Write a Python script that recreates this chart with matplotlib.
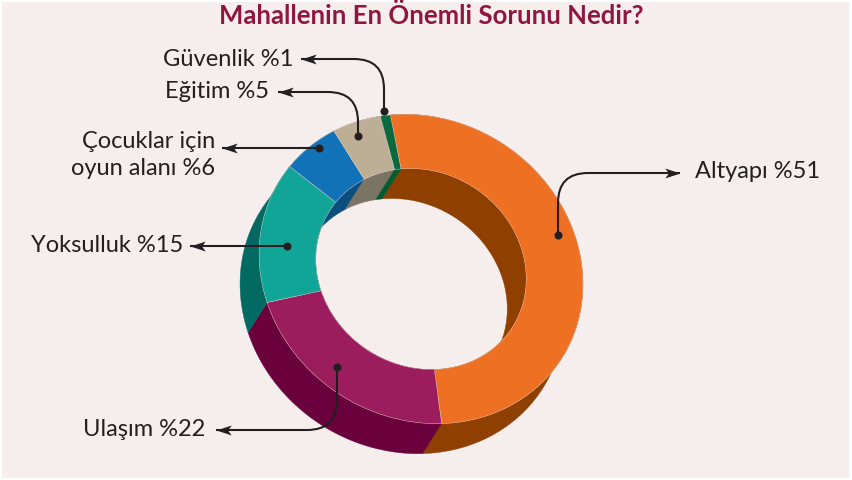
import numpy as np
import matplotlib
matplotlib.use("Agg")
import matplotlib.pyplot as plt
from matplotlib.patches import Wedge, Rectangle, Polygon, PathPatch
from matplotlib.path import Path
from matplotlib.transforms import Affine2D

plt.rcParams['font.family'] = ['Lato', 'DejaVu Sans']

title = "Mahallenin En Önemli Sorunu Nedir?"
categories = ["Altyapı", "Ulaşım", "Yoksulluk", "Çocuklar için\noyun alanı", "Eğitim", "Güvenlik"]
values = [51, 22, 15, 6, 5, 1]
top_colors = ["#EE7023", "#9B1D5E", "#10A597", "#1172B8", "#BDAF96", "#0B6A3D"]
wall_colors = ["#8F3F00", "#6A003C", "#036A63", "#0A4E80", "#7A7464", "#055A30"]

BG = "#F5EEED"
INK = "#231F20"
CX, CY = 421, 269
START = -134
HOLE = 0.65
DEPTH = (-19, 30)

fig = plt.figure(figsize=(8.52, 4.8), dpi=100, facecolor="white")
ax = fig.add_axes([0, 0, 1, 1])
ax.set_xlim(0, 852)
ax.set_ylim(480, 0)
ax.axis("off")
ax.add_patch(Rectangle((2, 2), 847, 476, fc=BG, ec="none", zorder=0))

# Tilted, slightly sheared projection of the unit circle onto the page
unit = Affine2D.from_values(135.7, 96.7, -88.4, 120.7, CX, CY)
shares = np.array(values, float) / sum(values) * 360
edges = START + np.concatenate([[0], np.cumsum(shares)])


def arc(radius, t1, t2):
    t = np.radians(np.linspace(t1, t2, 120))
    return unit.transform(np.column_stack([radius * np.cos(t), radius * np.sin(t)]))


def wall(radius, t1, t2, color, z):
    top = arc(radius, t1, t2)
    low = top + np.array(DEPTH)
    ax.add_patch(Polygon(np.vstack([top, low[::-1]]), closed=True, fc=color, ec=color, lw=0.3, zorder=z))


for i in range(len(values)):
    wall(1.0, edges[i], edges[i + 1], wall_colors[i], 1)
for i in range(len(values)):
    wall(HOLE, edges[i], edges[i + 1], wall_colors[i], 2)
for i in range(len(values)):
    ax.add_patch(Wedge((0, 0), 1.0, edges[i], edges[i + 1], width=1 - HOLE,
                       fc=top_colors[i], ec="#F3D9CF", lw=0.25, zorder=3,
                       transform=unit + ax.transData))

arrow_marker = Path([(-1, 0), (0.9, -0.62), (0.45, 0), (0.9, 0.62), (-1, 0)],
                    [Path.MOVETO, Path.LINETO, Path.LINETO, Path.LINETO, Path.CLOSEPOLY])


def leader(dot, tip, corner=None):
    """Line from a dot on the ring to an arrow tip, rounded at the corner."""
    if corner is None:
        verts = [dot, tip]
        codes = [Path.MOVETO, Path.LINETO]
    else:
        x, y = corner
        sy = np.sign(dot[1] - y)
        sx = np.sign(tip[0] - x)
        verts = [dot, (x, y + sy * 30), (x, y), (x + sx * 30, y), tip]
        codes = [Path.MOVETO, Path.LINETO, Path.CURVE3, Path.CURVE3, Path.LINETO]
    ax.add_patch(PathPatch(Path(verts, codes), fc="none", ec=INK, lw=1.5, zorder=5))
    ax.plot(*dot, "o", color=INK, ms=5.8, mew=0, zorder=6)
    sign = np.sign(tip[0] - dot[0])
    m = arrow_marker if sign < 0 else arrow_marker.transformed(Affine2D().scale(-1, 1))
    ax.plot(tip[0] - sign * 8, tip[1], marker=m, color=INK, ms=11.5, mew=0, zorder=6)


leader((558, 235), (680, 173), (558, 173))
leader((337, 367), (216, 430), (337, 430))
leader((287, 246), (190, 246))
leader((319, 148), (222, 148))
leader((358, 136), (278, 92), (358, 92))
leader((384, 111), (301, 59), (384, 59))

label_pos = [(695, 171, "left"), (205, 430, "right"), (183, 246, "right"),
             (215, 155, "right"), (269, 92, "right"), (293, 59, "right")]
for name, val, (x, y, ha) in zip(categories, values, label_pos):
    ax.text(x, y, f"{name} %{val}", ha=ha, va="center", ma=ha, fontsize=17,
            color=INK, linespacing=1.33, zorder=7)

ax.text(431, 15, title, ha="center", va="center", fontsize=18.5, fontweight="bold",
        color="#8F1640", zorder=7)

fig.savefig("out.png", dpi=100, facecolor="white")
